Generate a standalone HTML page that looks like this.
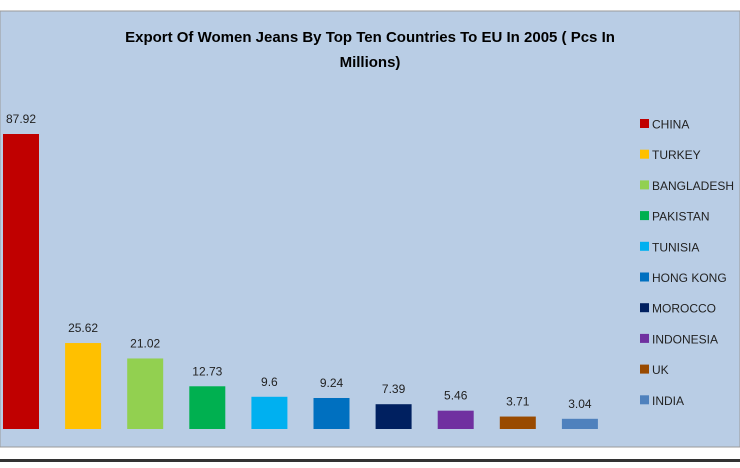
<!DOCTYPE html>
<html><head><meta charset="utf-8"><style>
body{margin:0;background:#fff;width:740px;height:463px;overflow:hidden;font-family:"Liberation Sans",sans-serif}
</style></head><body>
<svg width="740" height="463">
<rect x="0" y="0" width="740" height="463" fill="#fff"/>
<rect x="0" y="11" width="740" height="436" fill="#b9cde5" stroke="#9a9a9a" stroke-width="1"/>
<rect x="0" y="459" width="740" height="3" fill="#333"/>
<text x="370" y="42" text-anchor="middle" font-size="15" font-weight="bold" fill="#000">Export  Of Women Jeans By Top Ten Countries To EU In 2005 ( Pcs In</text>
<text x="370" y="67" text-anchor="middle" font-size="15" font-weight="bold" fill="#000">Millions)</text>
<g id="bars"></g>
<g id="legend"></g>
</svg>
<script>
const categories=["CHINA","TURKEY","BANGLADESH","PAKISTAN","TUNISIA","HONG KONG","MOROCCO","INDONESIA","UK","INDIA"];
const values=[87.92,25.62,21.02,12.73,9.6,9.24,7.39,5.46,3.71,3.04];
const labels=["87.92","25.62","21.02","12.73","9.6","9.24","7.39","5.46","3.71","3.04"];
const colors=["#c00000","#ffc000","#92d050","#00b050","#00b0f0","#0070c0","#002060","#7030a0","#994a00","#4f81bd"];
const NS="http://www.w3.org/2000/svg";
const base=429, top0=134, vmax=87.92;
const y=v=>base-(v/vmax)*(base-top0);
const xc=i=>21+i*62.1;
const bars=document.getElementById('bars'), legend=document.getElementById('legend');
values.forEach((v,i)=>{
  const r=document.createElementNS(NS,'rect');
  r.setAttribute('x',xc(i)-18);r.setAttribute('y',y(v));r.setAttribute('width',36);r.setAttribute('height',base-y(v));r.setAttribute('fill',colors[i]);
  
  
  bars.appendChild(r);
  const t=document.createElementNS(NS,'text');
  t.setAttribute('x',xc(i));t.setAttribute('y',y(v)-11);t.setAttribute('text-anchor','middle');t.setAttribute('font-size','12');t.setAttribute('fill','#222');
  t.textContent=labels[i];
  
  
  bars.appendChild(t);
  const ly=124+i*30.7;
  const s=document.createElementNS(NS,'rect');
  s.setAttribute('x',640);s.setAttribute('y',ly-5);s.setAttribute('width',9);s.setAttribute('height',9);s.setAttribute('fill',colors[i]);
  
  
  legend.appendChild(s);
  const lt=document.createElementNS(NS,'text');
  lt.setAttribute('x',652);lt.setAttribute('y',ly+4.5);lt.setAttribute('font-size','12');lt.setAttribute('fill','#222');
  lt.textContent=categories[i];
  
  
  legend.appendChild(lt);
});
</script>
</body></html>
